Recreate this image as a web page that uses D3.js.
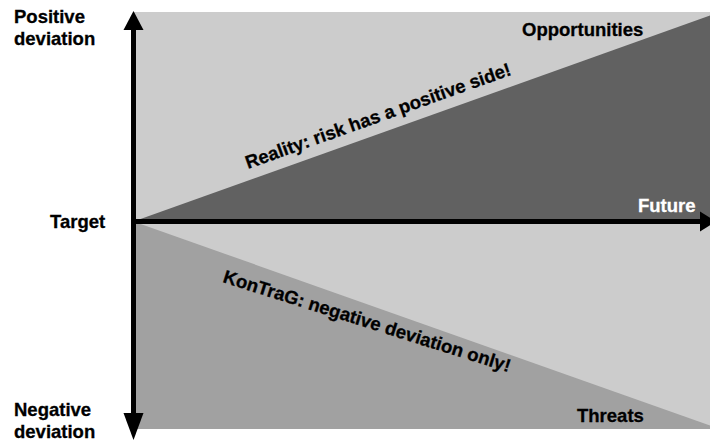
<!DOCTYPE html>
<html>
<head>
<meta charset="utf-8">
<script src="https://cdn.jsdelivr.net/npm/d3@7"></script>
<style>
  body { margin: 0; background: #fff; }
  svg text { font-family: "Liberation Sans", Arial, sans-serif; font-weight: bold; font-size: 18.5px; stroke-width: 0.3; }
</style>
</head>
<body>
<svg id="chart" width="710" height="441"></svg>
<script>
// regions in (time, deviation) space: time 0..1, deviation -1..1
var backgroundRegion = [[0, 1], [1, 1], [1, -1], [0, -1]];
var realityRegion = [[0, 0], [1, 1], [1, 0]];      // upside as well as downside
var kontragRegion = [[0, 0], [1, -1], [0, -1]];    // downside only

var axisLabelsLeft = ['Positive', 'deviation', 'Target', 'Negative', 'deviation'];
var cornerLabels = ['Opportunities', 'Future', 'Threats'];
var realityText = 'Reality: risk has a positive side!';
var kontragText = 'KonTraG: negative deviation only!';

var svg = d3.select('#chart');

var xScale = d3.scaleLinear()
  .domain([0, 1])
  .range([133.5, 720]);
var yScale = d3.scaleLinear()
  .domain([-1, 0, 1])
  .range([429, 221.5, 12]);

var line = d3.line()
  .x(d => xScale(d[0]))
  .y(d => yScale(d[1]));

svg.append('path')
  .attr('d', line(backgroundRegion) + 'Z')
  .style('fill', '#cccccc');
svg.append('path')
  .attr('d', line(realityRegion) + 'Z')
  .style('fill', '#616161');
svg.append('path')
  .attr('d', line(kontragRegion) + 'Z')
  .style('fill', '#a1a1a1');

// axes with arrow heads
var x0 = xScale(0), y0 = yScale(0);
svg.append('line')
  .attr('x1', x0).attr('x2', x0)
  .attr('y1', 28).attr('y2', 415)
  .style('stroke', '#000').style('stroke-width', 5);
svg.append('line')
  .attr('x1', x0 - 2.5).attr('x2', 702)
  .attr('y1', y0).attr('y2', y0)
  .style('stroke', '#000').style('stroke-width', 5);

var heads = [
  [[x0, 11], [x0 - 10, 30], [x0 + 10, 30]],
  [[x0, 440], [x0 - 10, 413], [x0 + 10, 413]],
  [[716, y0], [700, y0 - 10], [700, y0 + 10]]
];
svg.selectAll('.head')
  .data(heads)
  .enter()
  .append('path')
  .attr('class', 'head')
  .attr('d', d => d3.line()(d) + 'Z')
  .style('fill', '#000');

// left labels
var leftPos = [[14, 23], [14, 45], [50, 228], [14, 416], [14, 438]];
svg.selectAll('.left')
  .data(axisLabelsLeft)
  .enter()
  .append('text')
  .attr('class', 'left')
  .attr('x', (d, i) => leftPos[i][0])
  .attr('y', (d, i) => leftPos[i][1])
  .style('fill', '#000').style('stroke', '#000')
  .text(d => d);

svg.append('text').attr('x', 522).attr('y', 36)
  .style('fill', '#000').style('stroke', '#000')
  .text(cornerLabels[0]);
svg.append('text').attr('x', 638).attr('y', 212)
  .style('fill', '#fff').style('stroke', '#fff')
  .text(cornerLabels[1]);
svg.append('text').attr('x', 577).attr('y', 422)
  .style('fill', '#000').style('stroke', '#000')
  .text(cornerLabels[2]);

// slanted texts roughly follow the region edges
var upAngle = Math.atan2(yScale(1) - y0, xScale(1) - x0) * 180 / Math.PI;

svg.append('text')
  .attr('transform', `translate(248,169) rotate(${upAngle})`)
  .style('fill', '#000').style('stroke', '#000')
  .text(realityText);
svg.append('text')
  .attr('transform', 'translate(222,282) rotate(17.5)')
  .style('fill', '#000').style('stroke', '#000')
  .text(kontragText);
</script>
</body>
</html>
